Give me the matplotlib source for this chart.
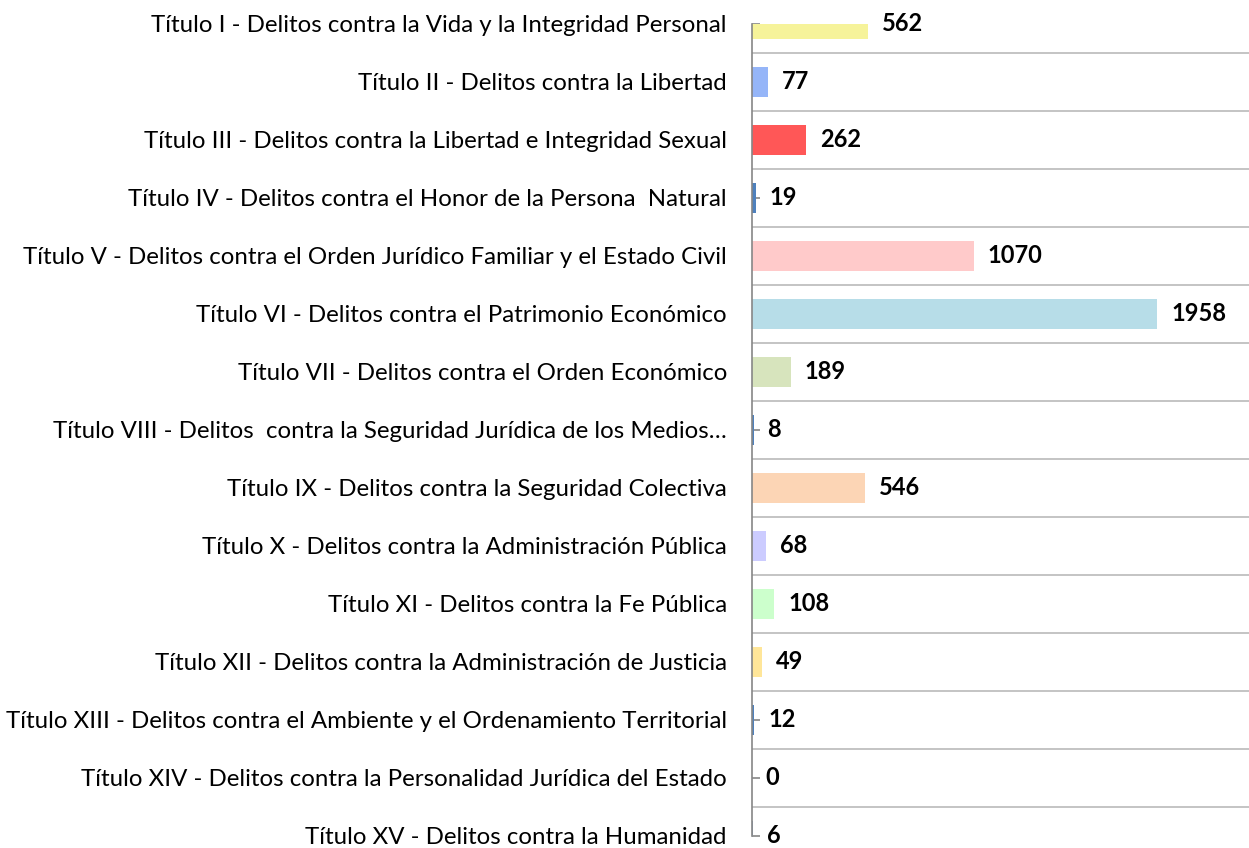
import matplotlib
matplotlib.use("Agg")
import matplotlib.pyplot as plt
import numpy as np

# Delitos por título del Código Penal
titulos = [
    "Título I - Delitos contra la Vida y la Integridad Personal",
    "Título II - Delitos contra la Libertad",
    "Título III - Delitos contra la Libertad e Integridad Sexual",
    "Título IV - Delitos contra el Honor de la Persona  Natural",
    "Título V - Delitos contra el Orden Jurídico Familiar y el Estado Civil",
    "Título VI - Delitos contra el Patrimonio Económico",
    "Título VII - Delitos contra el Orden Económico",
    "Título VIII - Delitos  contra la Seguridad Jurídica de los Medios…",
    "Título IX - Delitos contra la Seguridad Colectiva",
    "Título X - Delitos contra la Administración Pública",
    "Título XI - Delitos contra la Fe Pública",
    "Título XII - Delitos contra la Administración de Justicia",
    "Título XIII - Delitos contra el Ambiente y el Ordenamiento Territorial",
    "Título XIV - Delitos contra la Personalidad Jurídica del Estado",
    "Título XV - Delitos contra la Humanidad",
]
casos = [562, 77, 262, 19, 1070, 1958, 189, 8, 546, 68, 108, 49, 12, 0, 6]
colores = [
    "#F6F39A", "#95B5F8", "#FF5757", "#4F81BD", "#FFCACA",
    "#B7DDE8", "#D7E4BD", "#4F81BD", "#FCD5B5", "#CCCCFF",
    "#CCFFCC", "#FFE699", "#4F81BD", "#4F81BD", "#8EA9C8",
]

plt.rcParams["font.family"] = ["Lato", "DejaVu Sans"]

fig = plt.figure(figsize=(12.49, 8.48), dpi=100)
ax = fig.add_axes([0.602, 0.0142, 0.398, 0.9575])

pos = np.arange(len(titulos))
ax.barh(pos, casos, height=0.51, color=colores, zorder=2)

# etiquetas de valor en negrita al final de cada barra
for y, v in zip(pos, casos):
    ax.annotate(str(v), (v, y), xytext=(10, 0), textcoords="offset points",
                va="center", ha="left", fontsize=17, fontweight="bold",
                annotation_clip=False)

ax.set_ylim(len(titulos) - 1, 0)
ax.set_xlim(0, 2400)
ax.set_yticks(pos)
ax.set_yticklabels(titulos, fontsize=17.3)
ax.set_yticks(pos[:-1] + 0.5, minor=True)
ax.tick_params(axis="y", which="major", direction="in", length=6,
               color="#868686", width=1.2, pad=18)
ax.tick_params(axis="y", which="minor", length=0)
ax.set_xticks([])
ax.grid(axis="y", which="minor", color="#BFBFBF", linewidth=1.3, zorder=0)

for s in ["top", "right", "bottom"]:
    ax.spines[s].set_visible(False)
ax.spines["left"].set_color("#868686")
ax.spines["left"].set_linewidth(1.2)

fig.savefig("out.png", dpi=100)
